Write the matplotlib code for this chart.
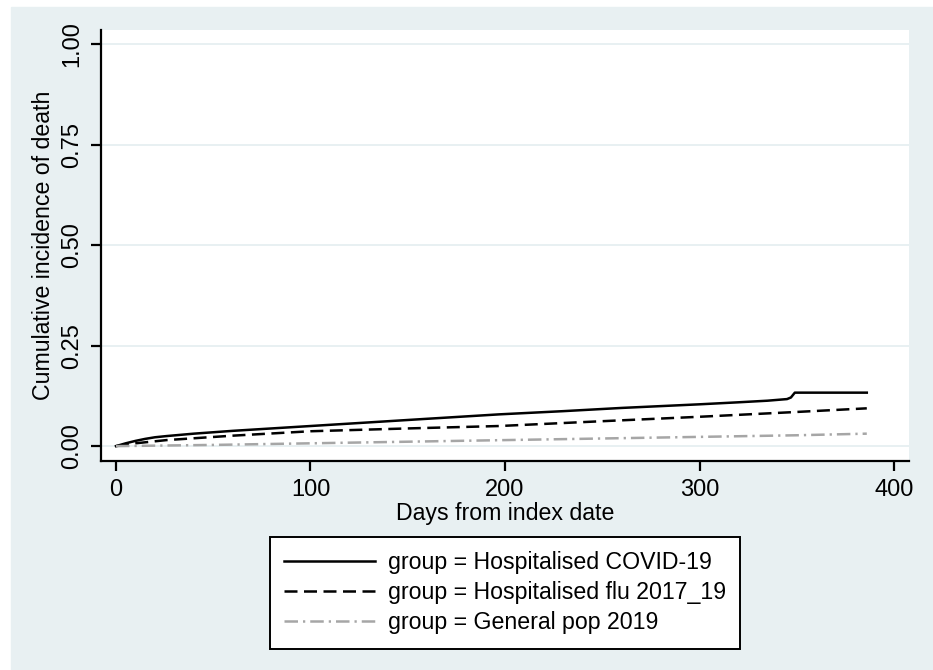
import matplotlib.pyplot as plt
from matplotlib.patches import Rectangle

plt.rcParams['font.family'] = ['Liberation Sans', 'DejaVu Sans']

# cumulative incidence
covid_days = [0, 5, 10, 15, 20, 26, 40, 60, 80, 100, 130, 160, 197, 230, 260,
              300, 320, 335, 345, 347, 349, 386]
covid_vals = [0.0, 0.007, 0.013, 0.018, 0.022, 0.025, 0.031, 0.038, 0.044,
              0.050, 0.059, 0.068, 0.079, 0.087, 0.095, 0.104, 0.109, 0.113,
              0.117, 0.121, 0.133, 0.133]

flu_days = [0, 10, 26, 60, 100, 150, 197, 250, 300, 350, 386]
flu_vals = [0.0, 0.007, 0.015, 0.026, 0.037, 0.044, 0.050, 0.062, 0.073,
            0.085, 0.094]

gen_days = [0, 50, 100, 150, 200, 250, 300, 350, 386]
gen_vals = [0.0, 0.003, 0.007, 0.011, 0.015, 0.019, 0.023, 0.027, 0.031]

labels = ['group = Hospitalised COVID-19',
          'group = Hospitalised flu 2017_19',
          'group = General pop 2019']

x_ticks = [0, 100, 200, 300, 400]
y_ticks = [0.0, 0.25, 0.5, 0.75, 1.0]
y_ticklabels = ['0.00', '0.25', '0.50', '0.75', '1.00']

fig = plt.figure(figsize=(9.33, 6.70), dpi=100)
bg = Rectangle((11 / 933, 0), 1 - 11 / 933, 1 - 7 / 670,
               transform=fig.transFigure, color='#e8f0f2', zorder=-10)
fig.add_artist(bg)

ax = fig.add_axes([101 / 933, 1 - 461 / 670, 808 / 933, 431 / 670])
ax.set_facecolor('white')

ax.plot(covid_days, covid_vals, color='black', lw=1.8, label=labels[0])
ax.plot(flu_days, flu_vals, color='black', lw=1.8, dashes=(5.2, 2.6),
        label=labels[1])
ax.plot(gen_days, gen_vals, color='#a6a6a6', lw=1.8,
        dashes=(5.4, 2, 0.9, 2), label=labels[2])

ax.set_xlim(-7.7, 407.7)
ax.set_ylim(-0.037, 1.035)
ax.set_xticks(x_ticks)
ax.set_yticks(y_ticks)
ax.set_yticklabels(y_ticklabels, rotation=90, va='center')
ax.grid(axis='y', color='#e4eef0', lw=1.2)
ax.set_axisbelow(True)

for s in ['top', 'right']:
    ax.spines[s].set_visible(False)
for s in ['left', 'bottom']:
    ax.spines[s].set_linewidth(1.6)
ax.tick_params(length=7, width=1.6, labelsize=17, pad=6)

ax.set_xlabel('Days from index date', fontsize=16.7, labelpad=1)
ax.set_ylabel('Cumulative incidence of death', fontsize=16.7, labelpad=4)

leg = ax.legend(loc='upper center', bbox_to_anchor=(0.5, -0.176),
                borderaxespad=0, fontsize=16.7, frameon=True, fancybox=False,
                framealpha=1, edgecolor='black', handlelength=3.9,
                borderpad=0.62, labelspacing=0.3, handletextpad=0.55)
leg.get_frame().set_linewidth(1.4)

fig.savefig('out.png', dpi=100)
